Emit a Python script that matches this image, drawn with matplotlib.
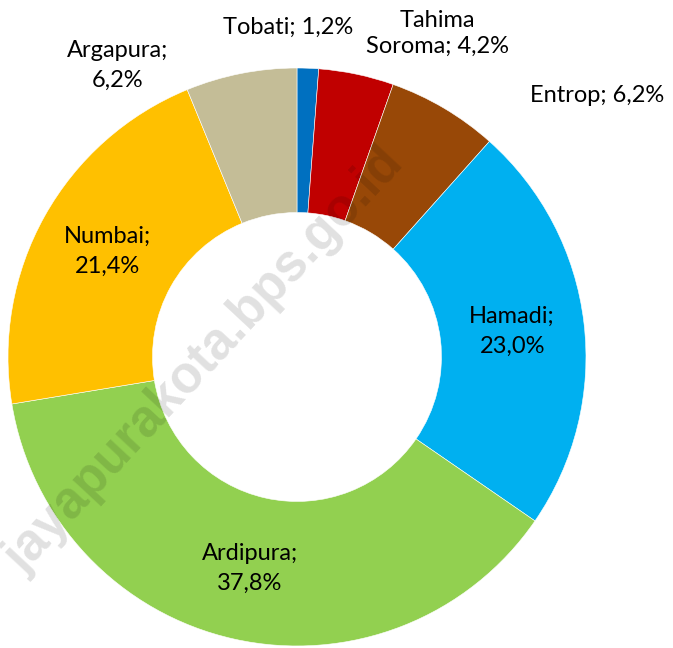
import matplotlib
matplotlib.use("Agg")
import matplotlib.pyplot as plt
import numpy as np

# slices, clockwise from 12 o'clock
names = ["Tobati", "Tahima\nSoroma", "Entrop", "Hamadi", "Ardipura", "Numbai", "Argapura"]
shares = [1.2, 4.2, 6.2, 23.0, 37.8, 21.4, 6.2]
colors = ["#0070C0", "#C00000", "#984807", "#00B0F0", "#92D050", "#FFC000", "#C4BD97"]

# label placement in data units (radius 1 = outer edge); others sit inside the ring
label_pos = {
    "Tobati": (-0.03, 1.14),
    "Tahima\nSoroma": (0.485, 1.12),
    "Entrop": (1.04, 0.905),
    "Argapura": (-0.62, 1.01),
}
two_line = {"Argapura"}

fig = plt.figure(figsize=(6.73, 6.48), dpi=100)
ax = fig.add_axes([0.01189, 0.00309, 0.8588, 0.892])

wedges, _ = ax.pie(
    shares,
    colors=colors,
    startangle=90,
    counterclock=False,
    radius=1.0,
    wedgeprops=dict(width=0.5, linewidth=0.4, edgecolor="white"),
)
ax.set_xlim(-1, 1)
ax.set_ylim(-1, 1)
ax.set_aspect("equal")
ax.set_axis_off()

font = dict(family=["Lato", "DejaVu Sans"], fontsize=17, color="black")

for w, name, val in zip(wedges, names, shares):
    pct = f"{val:.1f}%".replace(".", ",")
    if name in label_pos:
        x, y = label_pos[name]
        txt = f"{name};\n{pct}" if name in two_line else f"{name}; {pct}"
        ls = 1.3 if "\n" in name else 1.5
    else:
        mid = np.deg2rad((w.theta1 + w.theta2) / 2)
        x, y = 0.75 * np.cos(mid), 0.75 * np.sin(mid)
        txt = f"{name};\n{pct}"
        ls = 1.5
    ax.text(x, y, txt, ha="center", va="center", linespacing=ls, **font)

# watermark
fig.text(0.305, 0.444, "jayapurakota.bps.go.id", rotation=47, ha="center", va="center",
         family="Liberation Sans", fontweight="bold", fontsize=37,
         color="#000000", alpha=0.12, zorder=10)

fig.savefig("out.png", dpi=100)
